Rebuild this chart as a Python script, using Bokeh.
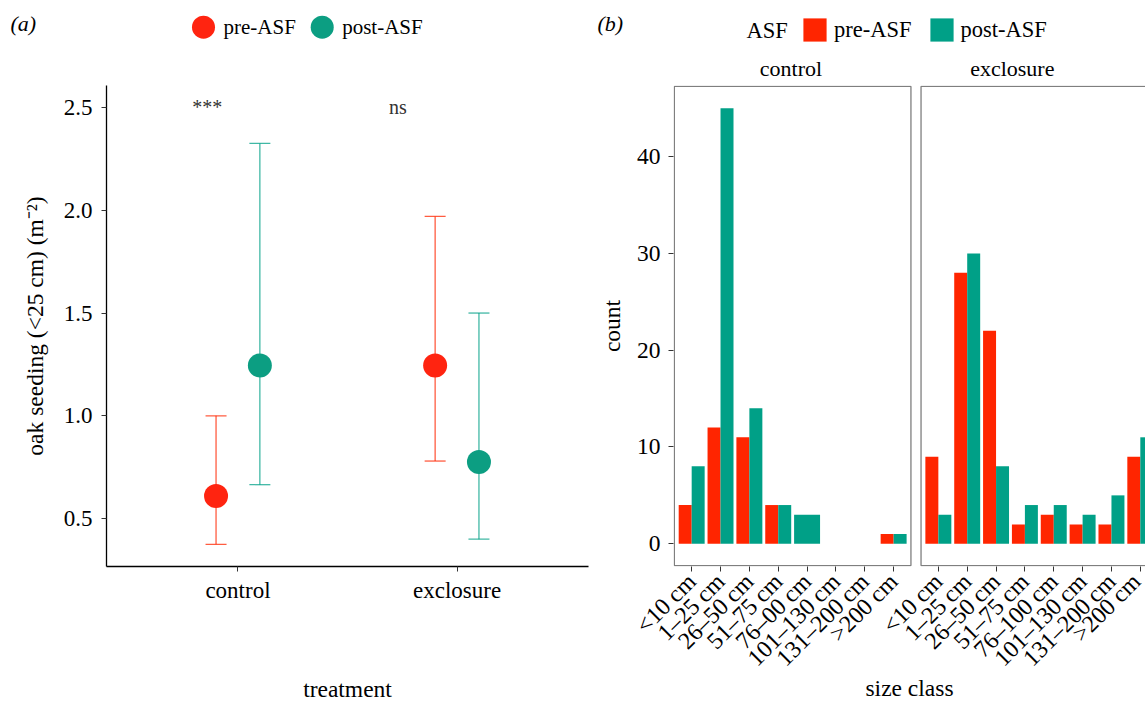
import math
from bokeh.plotting import figure
from bokeh.layouts import row, column
from bokeh.models import (ColumnDataSource, FixedTicker, Whisker, TeeHead, Legend,
                          LegendItem, Label, NumeralTickFormatter)
from bokeh.core.properties import value
from bokeh.embed import file_html
from bokeh.resources import INLINE

FONT = "Liberation Serif"
RED = "#FF2500"
TEAL = "#00A087"
PT_RED = "#FF2410"
PT_TEAL = "#0C9E82"

# ---------------- data: panel (a) ----------------
treatments = ["control", "exclosure"]
periods = ["pre-ASF", "post-ASF"]
pre_mean = [0.61, 1.245]
pre_lower = [0.375, 0.78]
pre_upper = [1.00, 1.97]
post_mean = [1.245, 0.775]
post_lower = [0.665, 0.40]
post_upper = [2.325, 1.50]
sig_labels = ["***", "ns"]
sig_x = [0.86, 1.73]
sig_y = [2.5, 2.5]

# ---------------- data: panel (b) ----------------
facets = ["control", "exclosure"]
size_classes_control = ["<10 cm", "1–25 cm", "26–50 cm", "51–75 cm", "76–00 cm",
                        "101–130 cm", "131–200 cm", ">200 cm"]
size_classes_exclosure = ["<10 cm", "1–25 cm", "26–50 cm", "51–75 cm", "76–100 cm",
                          "101–130 cm", "131–200 cm", ">200 cm"]
control_pre = [4, 12, 11, 4, None, None, None, 1]
control_post = [8, 45, 14, 4, 3, None, None, 1]
exclosure_pre = [9, 28, 22, 2, 3, 2, 2, 9]
exclosure_post = [3, 30, 8, 4, 4, 3, 5, 11]
count_ticks = [0, 10, 20, 30, 40]

WA, WB = 590, 555
HH, HM = 80, 624


def header(width):
    h = figure(width=width, height=HH, x_range=(0, width), y_range=(0, HH),
               x_axis_location=None, y_axis_location=None,
               output_backend="svg", toolbar_location=None, min_border=0)
    h.outline_line_color = None
    h.grid.visible = False
    return h


def lab(fig, x, y, text, size, align="left", style="normal"):
    fig.add_layout(Label(x=x, y=y, text=text, text_font=FONT, text_font_size=size,
                         text_font_style=style, text_baseline="middle",
                         text_align=align, text_color="black"))


def style_axis(ax, tick_size="23px"):
    ax.major_tick_line_color = "#333333"
    ax.major_tick_out = 5
    ax.major_tick_in = 0
    ax.minor_tick_line_color = None
    ax.major_label_text_font = FONT
    ax.major_label_text_font_size = tick_size
    ax.major_label_text_color = "black"
    ax.axis_label_text_font = FONT
    ax.axis_label_text_font_size = "23.5px"
    ax.axis_label_text_font_style = "normal"
    ax.axis_label_text_color = "black"


# ======================= header (a): legend of point colours =======================
ha = header(WA)
lab(ha, 10, 57, "(a)", "22px", style="italic")
KEY_Y = HH - 26.7
key_x = [203, 321.7]
ha.scatter(x=key_x, y=[KEY_Y] * 2, size=23, fill_color=[PT_RED, PT_TEAL], line_color=None)
for kx, name in zip(key_x, periods):
    lab(ha, kx + 20, KEY_Y, name, "21px")

# ======================= header (b) =======================
hb = header(WB)
lab(hb, 7, 57, "(b)", "22px", style="italic")
lab(hb, 156, 50.5, "ASF", "22.5px")
kb_pre = hb.vbar(x=[-1000], top=[-1000], width=1, fill_color=RED, line_color=None)
kb_post = hb.vbar(x=[-1000], top=[-1000], width=1, fill_color=TEAL, line_color=None)
hb.add_layout(Legend(items=[LegendItem(label=periods[0], renderers=[kb_pre]),
                            LegendItem(label=periods[1], renderers=[kb_post])],
                     orientation="horizontal", location=(210, 36),
                     glyph_width=29, glyph_height=29, label_standoff=5, spacing=15, padding=0,
                     border_line_color=None, background_fill_alpha=0,
                     label_text_font=FONT, label_text_font_size="22.5px",
                     label_text_color="black"))
lab(hb, 200.5, 12, facets[0], "22px", align="center")
lab(hb, 421.8, 12, facets[1], "22px", align="center")

# ======================= panel (a) =======================
pa = figure(width=WA, height=HM, x_range=(0.4, 2.6), y_range=(0.267, 2.607),
            output_backend="svg", toolbar_location=None,
            min_border_left=106, min_border_right=2, min_border_top=5, min_border_bottom=137)
pa.outline_line_color = None
pa.grid.visible = False

DODGE = 0.1
xi = [i + 1 for i in range(len(treatments))]
src_pre = ColumnDataSource(dict(x=[v - DODGE for v in xi], mean=pre_mean,
                                lower=pre_lower, upper=pre_upper))
src_post = ColumnDataSource(dict(x=[v + DODGE for v in xi], mean=post_mean,
                                 lower=post_lower, upper=post_upper))

for src, col in [(src_pre, RED), (src_post, TEAL)]:
    pa.add_layout(Whisker(base="x", lower="lower", upper="upper", source=src,
                          dimension="height", line_color=col, line_width=1.3,
                          line_alpha=0.75, level="underlay",
                          upper_head=TeeHead(size=21, line_color=col, line_width=1.3, line_alpha=0.75),
                          lower_head=TeeHead(size=21, line_color=col, line_width=1.3, line_alpha=0.75)))

pa.scatter(x="x", y="mean", source=src_pre, size=24, fill_color=PT_RED, line_color=None)
pa.scatter(x="x", y="mean", source=src_post, size=24, fill_color=PT_TEAL, line_color=None)

pa.text(x=sig_x, y=sig_y, text=sig_labels, text_font=value(FONT), text_font_size="20px",
        text_color="#333333", text_align="center", text_baseline="alphabetic")

pa.xaxis.ticker = FixedTicker(ticks=xi)
pa.xaxis.major_label_overrides = {v: t for v, t in zip(xi, treatments)}
pa.yaxis.ticker = FixedTicker(ticks=[0.5, 1.0, 1.5, 2.0, 2.5])
pa.yaxis.formatter = NumeralTickFormatter(format="0.0")
for ax in (pa.xaxis[0], pa.yaxis[0]):
    style_axis(ax)
    ax.axis_line_color = "black"
    ax.axis_line_width = 1.3
pa.xaxis.axis_label = "treatment"
pa.xaxis.major_label_standoff = 6
pa.xaxis.axis_label_standoff = 70
pa.yaxis.axis_label = "oak seeding (<25 cm) (m⁻²)"
pa.yaxis.major_label_standoff = 9
pa.yaxis.axis_label_standoff = 13

# ======================= panel (b) =======================
OFFSET = 8.55
pb = figure(width=WB, height=HM, x_range=(0.37, 16.73), y_range=(-2.35, 47.35),
            output_backend="svg", toolbar_location=None,
            min_border_left=83, min_border_right=0, min_border_top=5, min_border_bottom=137)
pb.outline_line_color = None
pb.grid.visible = False

pre_x, pre_top, pre_w, post_x, post_top, post_w = [], [], [], [], [], []
ticks_b, labels_b = [], []
for k, (pre, post, labs) in enumerate([(control_pre, control_post, size_classes_control),
                                        (exclosure_pre, exclosure_post, size_classes_exclosure)]):
    for i in range(len(labs)):
        base = i + 1 + k * OFFSET
        ticks_b.append(base)
        labels_b.append(labs[i])
        both = pre[i] is not None and post[i] is not None
        if pre[i] is not None:
            pre_x.append(base - 0.225 if both else base)
            pre_w.append(0.45 if both else 0.9)
            pre_top.append(pre[i])
        if post[i] is not None:
            post_x.append(base + 0.225 if both else base)
            post_w.append(0.45 if both else 0.9)
            post_top.append(post[i])

pb.vbar(x=pre_x, width=pre_w, top=pre_top, bottom=0, fill_color=RED, line_color=None)
pb.vbar(x=post_x, width=post_w, top=post_top, bottom=0, fill_color=TEAL, line_color=None)

pb.quad(left=[0.4 + k * OFFSET for k in range(len(facets))],
        right=[8.6 + k * OFFSET for k in range(len(facets))],
        bottom=-2.25, top=47.25, fill_color=None, line_color="#7F7F7F", line_width=1.3)

pb.xaxis.ticker = FixedTicker(ticks=ticks_b)
pb.xaxis.major_label_overrides = {t: l for t, l in zip(ticks_b, labels_b)}
pb.xaxis.major_label_orientation = math.pi / 4
pb.yaxis.ticker = FixedTicker(ticks=count_ticks)
style_axis(pb.xaxis[0], "24px")
style_axis(pb.yaxis[0], "23.5px")
for ax in (pb.xaxis[0], pb.yaxis[0]):
    ax.axis_line_color = None
pb.xaxis.major_label_standoff = 6
pb.xaxis.axis_label = "size class"
pb.xaxis.axis_label_standoff = -8
pb.yaxis.major_label_standoff = 8
pb.yaxis.axis_label = "count"
pb.yaxis.axis_label_standoff = 9

layout = column(row(ha, hb), row(pa, pb))
open("out.html", "w").write(file_html(layout, INLINE))
